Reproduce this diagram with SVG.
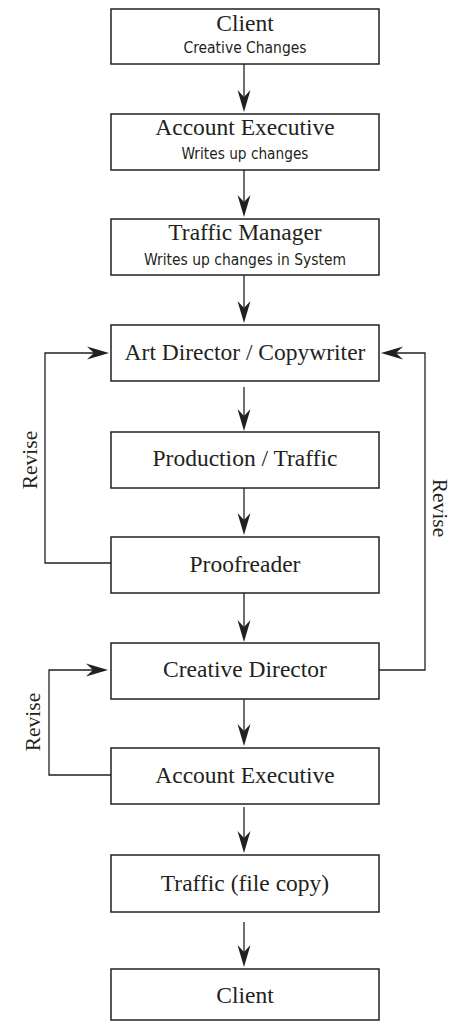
<svg xmlns="http://www.w3.org/2000/svg" width="450" height="1023" viewBox="0 0 450 1023">
<style>
.box{fill:#fff;stroke:#231f20;stroke-width:1.5}
.t{font-family:"Liberation Serif","Times New Roman",serif;font-size:23.5px;fill:#231f20;text-anchor:middle}
.s{font-family:"Liberation Sans Narrow","DejaVu Sans Condensed","DejaVu Sans",sans-serif;font-stretch:condensed;font-size:16.5px;fill:#231f20;text-anchor:middle}
.r{font-family:"Liberation Serif","Times New Roman",serif;font-size:21.5px;fill:#231f20;text-anchor:middle}
.c{fill:none;stroke:#231f20;stroke-width:1.3}
</style>
<defs>
<marker id="ah" markerUnits="userSpaceOnUse" viewBox="-20 -8 25 16" markerWidth="25" markerHeight="16" refX="0" refY="0" orient="auto">
<path d="M4,0 L-18,-6.5 L-11,0 L-18,6.5 Z" fill="#231f20"/>
</marker>
</defs>
<g id="connectors">
<path class="c" d="M244,64 V108" marker-end="url(#ah)"/>
<path class="c" d="M244,170 V213" marker-end="url(#ah)"/>
<path class="c" d="M244,275 V319" marker-end="url(#ah)"/>
<path class="c" d="M244,387 V427" marker-end="url(#ah)"/>
<path class="c" d="M244,488 V531" marker-end="url(#ah)"/>
<path class="c" d="M244,593 V638" marker-end="url(#ah)"/>
<path class="c" d="M244,699 V742" marker-end="url(#ah)"/>
<path class="c" d="M244,807 V849" marker-end="url(#ah)"/>
<path class="c" d="M244,922 V963" marker-end="url(#ah)"/>
<path class="c" d="M111,563 H45 V353 H105" marker-end="url(#ah)"/>
<path class="c" d="M379,670 H425 V353 H385" marker-end="url(#ah)"/>
<path class="c" d="M111,775 H49 V670 H104" marker-end="url(#ah)"/>
<text class="r" transform="translate(37,460) rotate(-90)">Revise</text>
<text class="r" transform="translate(433,508) rotate(90)">Revise</text>
<text class="r" transform="translate(40,722) rotate(-90)">Revise</text>
</g>
<g id="n1">
<rect class="box" x="111" y="9" width="268" height="55"/>
<text class="t" x="245" y="31">Client</text>
<text class="s" x="245" y="53" textLength="123" lengthAdjust="spacingAndGlyphs">Creative Changes</text>
</g>
<g id="n2">
<rect class="box" x="111" y="114" width="268" height="56"/>
<text class="t" x="245" y="135">Account Executive</text>
<text class="s" x="245" y="159" textLength="127" lengthAdjust="spacingAndGlyphs">Writes up changes</text>
</g>
<g id="n3">
<rect class="box" x="111" y="219" width="268" height="56"/>
<text class="t" x="245" y="240">Traffic Manager</text>
<text class="s" x="245" y="265" textLength="202" lengthAdjust="spacingAndGlyphs">Writes up changes in System</text>
</g>
<g id="n4">
<rect class="box" x="111" y="325" width="268" height="56"/>
<text class="t" x="245" y="360">Art Director / Copywriter</text>
</g>
<g id="n5">
<rect class="box" x="111" y="432" width="268" height="56"/>
<text class="t" x="245" y="466">Production / Traffic</text>
</g>
<g id="n6">
<rect class="box" x="111" y="537" width="268" height="56"/>
<text class="t" x="245" y="572">Proofreader</text>
</g>
<g id="n7">
<rect class="box" x="111" y="643" width="268" height="56"/>
<text class="t" x="245" y="677">Creative Director</text>
</g>
<g id="n8">
<rect class="box" x="111" y="748" width="268" height="56"/>
<text class="t" x="245" y="783">Account Executive</text>
</g>
<g id="n9">
<rect class="box" x="111" y="855" width="268" height="57"/>
<text class="t" x="245" y="891">Traffic (file copy)</text>
</g>
<g id="n10">
<rect class="box" x="111" y="969" width="268" height="51"/>
<text class="t" x="245" y="1003">Client</text>
</g>
</svg>
